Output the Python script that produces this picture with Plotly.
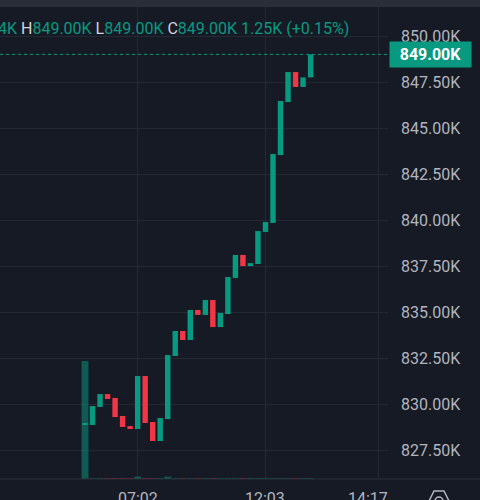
import plotly.graph_objects as go

# velas (en miles)
aperturas = [828.90, 828.86, 829.84, 830.54, 830.33, 829.35, 828.80, 828.64, 831.52, 829.02,
             827.99, 829.18, 832.61, 833.97, 833.48, 835.11, 834.84, 835.65, 834.18, 834.89,
             836.85, 838.10, 837.50, 837.61, 839.35, 839.84, 843.53, 846.41, 848.04, 847.23,
             847.75]
cierres = [828.90, 829.89, 830.54, 830.27, 829.29, 828.75, 828.64, 831.52, 828.97, 827.99,
           829.24, 832.66, 833.97, 833.48, 835.11, 834.84, 835.65, 834.18, 834.95, 836.90,
           838.10, 837.50, 837.66, 839.40, 839.89, 843.59, 846.47, 848.04, 847.23, 847.75,
           849.00]
volumen = [250, 2, 2, 2, 2, 2, 2, 5, 2, 2, 2, 5, 2, 2, 2, 2, 2, 2, 2, 2,
           2, 2, 2, 2, 2, 2, 2, 2, 2, 2, 2]
horas = ["07:02", "12:03", "14:17"]
horas_pos = [7, 24, 39]
ultimo = 849.00

BG = "#161a25"
GRID = "#242833"
UP = "#089981"
DOWN = "#f23645"
TXT = "#b2b5be"

idx = list(range(len(aperturas)))
sube = [c >= o for o, c in zip(aperturas, cierres)]
colores = [UP if s else DOWN for s in sube]
colores_vol = ["rgba(8,153,129,0.5)" if s else "rgba(242,54,69,0.5)" for s in sube]
base = [min(o, c) for o, c in zip(aperturas, cierres)]
alto = [max(abs(c - o), 0.06) for o, c in zip(aperturas, cierres)]

fig = go.Figure()
fig.add_trace(go.Bar(x=idx, y=volumen, width=0.92, marker=dict(color=colores_vol, line=dict(width=0)),
                     yaxis="y", hoverinfo="skip"))
fig.add_trace(go.Bar(x=idx, y=alto, base=base, width=0.72, marker=dict(color=colores, line=dict(width=0)),
                     yaxis="y2"))

fig.update_layout(
    width=480, height=500,
    margin=dict(l=0, r=92, t=7, b=21),
    paper_bgcolor=BG, plot_bgcolor=BG,
    showlegend=False, barmode="overlay",
    font=dict(family="Roboto", size=16, color=TXT),
    xaxis=dict(range=[-85 / 7.52, 303 / 7.52], tickvals=horas_pos, showticklabels=False,
               showgrid=True, gridcolor=GRID, zeroline=False, showline=False),
    yaxis=dict(range=[0, 1000], visible=False),
    yaxis2=dict(overlaying="y", side="right", range=[825.924, 851.576], tick0=850, dtick=2.5,
                tickformat=".2f", ticksuffix="K", showgrid=True, gridcolor=GRID, zeroline=False,
                showline=False, ticklabelstandoff=12, tickfont=dict(size=16, color=TXT)),
)

# linea de ultimo precio
fig.add_shape(type="line", xref="paper", yref="y2", x0=0, x1=1, y0=ultimo, y1=ultimo,
              line=dict(color=UP, width=1, dash="dot"))
# franja superior y linea inferior
fig.add_shape(type="rect", xref="paper", yref="paper", x0=-0.01, x1=1.25, y0=1, y1=1.02,
              fillcolor="#2a2e39", line=dict(width=0), layer="above")
fig.add_shape(type="line", xref="paper", yref="paper", x0=0, x1=1.25, y0=0, y1=0,
              line=dict(color="#2a2e39", width=1))

# icono de ajustes (abajo a la derecha, cortado)
px_x = lambda v: v / 388
px_y = lambda v: (479 - v) / 472
hexa = [(434, 491), (444, 491), (449, 501), (444, 511), (434, 511), (429, 501)]
ruta = "M " + " L ".join("%.4f,%.4f" % (px_x(a), px_y(b)) for a, b in hexa) + " Z"
fig.add_shape(type="path", xref="paper", yref="paper", path=ruta, line=dict(color=TXT, width=1.5))
fig.add_shape(type="circle", xref="paper", yref="paper", x0=px_x(435), x1=px_x(443),
              y0=px_y(497), y1=px_y(505), line=dict(color=TXT, width=1.5))

fig.add_annotation(xref="paper", yref="y2", x=1, y=ultimo, xanchor="left", yanchor="middle",
                   text="<b>%.2fK</b>" % ultimo, showarrow=False, bgcolor=UP, width=77, height=21,
                   borderpad=2, font=dict(color="white", size=16, family="Roboto"), xshift=1)

for h, p in zip(horas, [7, 24, 37.6]):
    fig.add_annotation(x=p, xref="x", yref="paper", y=0, yanchor="top", yshift=-8,
                       text=h, showarrow=False, font=dict(size=16, color=TXT))

g = "<span style='color:%s'>%%s</span>" % UP
w = "<span style='color:#d1d4dc'>%s</span>"
leyenda = (g % "4K") + " " + (w % "H") + (g % "849.00K") + " " + (w % "L") + (g % "849.00K") + " " \
    + (w % "C") + (g % "849.00K") + " " + (g % "1.25K (+0.15%)")
fig.add_annotation(xref="paper", yref="paper", x=0, y=1, xanchor="left", yanchor="middle",
                   xshift=-4, yshift=-21, text=leyenda, showarrow=False, font=dict(size=16))

fig.write_html("out.html", config={"displayModeBar": False},
               post_script="document.body.style.margin='0';document.body.style.background='%s';" % BG)
